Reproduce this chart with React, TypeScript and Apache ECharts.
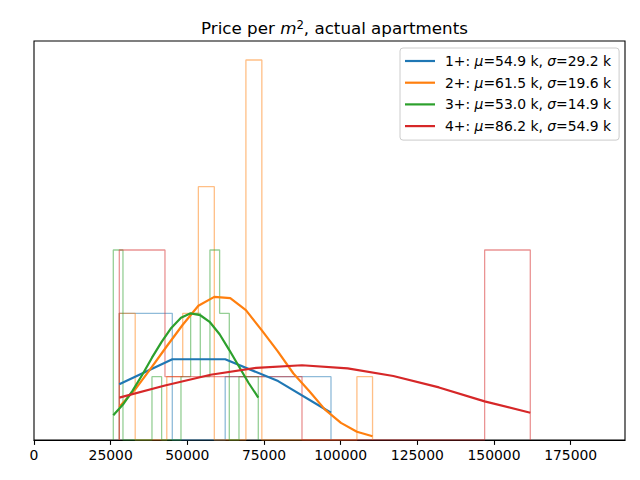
import React, { useEffect, useRef } from "react";
import * as echarts from "echarts";

// ---- data ----
const xTicks = [0, 25000, 50000, 75000, 100000, 125000, 150000, 175000];

const groupNames = ["1+", "2+", "3+", "4+"];
const groupMu = ["54.9", "61.5", "53.0", "86.2"];
const groupSigma = ["29.2", "19.6", "14.9", "54.9"];
const colors = ["#1f77b4", "#ff7f0e", "#2ca02c", "#d62728"];

// 1+
const edges1 = [27800, 45100, 62350, 79600, 96850];
const counts1 = [2, 0, 1, 1];
const pdf1 = [0.88, 1.275, 1.275, 0.93, 0.43];

// 2+
const edges2 = [27800, 33000, 38100, 43300, 48500, 53600, 58800, 64000, 69100, 74300, 79500, 84600, 89800, 94900, 100100, 105300, 110400];
const counts2 = [2, 0, 0, 1, 2, 4, 0, 0, 6, 0, 0, 0, 0, 0, 0, 1];
const pdf2 = [0.52, 0.8, 1.13, 1.48, 1.82, 2.12, 2.26, 2.24, 2.05, 1.73, 1.4, 1.05, 0.77, 0.48, 0.27, 0.13, 0.06];

// 3+
const edges3 = [25860, 29010, 32160, 35320, 38470, 41620, 44770, 47930, 51080, 54230, 57380, 60530, 63690, 66840, 69990, 73140];
const counts3 = [3, 0, 0, 0, 1, 0, 0, 1, 2, 1, 3, 2, 0, 1, 1];
const pdf3 = [0.39, 0.56, 0.78, 1.03, 1.3, 1.55, 1.77, 1.93, 2.0, 1.97, 1.86, 1.67, 1.42, 1.16, 0.9, 0.67];

// 4+
const edges4 = [27820, 42710, 57600, 72500, 87390, 102280, 117170, 132060, 146950, 161840];
const counts4 = [3, 1, 1, 1, 0, 0, 0, 0, 3];
const pdf4 = [0.67, 0.86, 1.03, 1.14, 1.18, 1.13, 1.01, 0.83, 0.61, 0.43];

const allEdges = [edges1, edges2, edges3, edges4];
const allCounts = [counts1, counts2, counts3, counts4];
const allPdf = [pdf1, pdf2, pdf3, pdf4];

function stepPoints(edges: number[], counts: number[]) {
  const pts: number[][] = [[edges[0], 0]];
  for (let i = 0; i < counts.length; i++) {
    pts.push([edges[i], counts[i]]);
    pts.push([edges[i + 1], counts[i]]);
  }
  pts.push([edges[edges.length - 1], 0]);
  return pts;
}

function legendName(i: number) {
  return groupNames[i] + ": mu=" + groupMu[i] + " k, sigma=" + groupSigma[i] + " k";
}

export default function App() {
  const ref = useRef<HTMLDivElement>(null);
  useEffect(() => {
    if (!ref.current) return;
    const chart = echarts.init(ref.current, undefined, { renderer: "svg" });
    const font = "DejaVu Sans";
    const series: any[] = [];
    for (let i = 0; i < 4; i++) {
      series.push({
        type: "line",
        name: "hist" + i,
        data: stepPoints(allEdges[i], allCounts[i]),
        symbol: "none",
        silent: true,
        z: 1,
        lineStyle: { color: colors[i], width: 1.3, opacity: 0.5 },
        itemStyle: { color: colors[i] },
      });
    }
    for (let i = 0; i < 4; i++) {
      series.push({
        type: "line",
        name: legendName(i),
        data: allEdges[i].map((x, k) => [x, allPdf[i][k]]),
        symbol: "none",
        z: 3,
        lineStyle: { color: colors[i], width: 2.2 },
        itemStyle: { color: colors[i] },
      });
    }
    const nameIndex: Record<string, number> = {};
    for (let i = 0; i < 4; i++) nameIndex[legendName(i)] = i;

    chart.setOption({
      animation: false,
      textStyle: { fontFamily: font },
      title: {
        text: "Price per {it|m}{sup|2}, actual apartments",
        left: 329.5,
        top: 14,
        textAlign: "center",
        textStyle: {
          fontFamily: font,
          fontSize: 16.7,
          fontWeight: "normal",
          color: "#000",
          rich: {
            it: { fontFamily: font, fontSize: 16.7, fontStyle: "italic", color: "#000" },
            sup: { fontFamily: font, fontSize: 11.7, color: "#000", verticalAlign: "top", padding: [0, 0, 6, 0] },
          },
        },
      },
      legend: {
        data: groupNames.map((_, i) => legendName(i)),
        orient: "vertical",
        left: 400,
        top: 48,
        padding: [6, 8, 7, 5],
        icon: "rect",
        itemWidth: 30,
        itemHeight: 2.2,
        itemGap: 7.7,
        backgroundColor: "rgba(255,255,255,0.8)",
        borderColor: "#cccccc",
        borderWidth: 1,
        borderRadius: 3,
        formatter: (name: string) => {
          const i = nameIndex[name];
          return (
            "{s| }{t|" + groupNames[i] + ": }{i|\u03bc}{t|=" + groupMu[i] + " k, }{i|\u03c3}{t|=" + groupSigma[i] + " k}"
          );
        },
        textStyle: {
          fontFamily: font,
          fontSize: 13.9,
          color: "#000",
          rich: {
            s: { width: 5, fontSize: 13.9, lineHeight: 17 },
            t: { fontFamily: font, fontSize: 13.9, color: "#000", lineHeight: 17 },
            i: { fontFamily: font, fontSize: 13.9, fontStyle: "italic", color: "#000", lineHeight: 17 },
          },
        },
      },
      grid: {
        left: 34,
        right: 15,
        top: 41,
        bottom: 40,
        show: true,
        borderColor: "#000",
        borderWidth: 1.1,
        backgroundColor: "transparent",
      },
      xAxis: {
        type: "value",
        min: 0,
        max: 192725,
        interval: 25000,
        splitLine: { show: false },
        axisLine: { show: true, lineStyle: { color: "#000", width: 1.1 } },
        axisTick: { show: true, inside: false, length: 4.9, lineStyle: { color: "#000", width: 1.1 }, customValues: xTicks },
        axisLabel: { color: "#000", fontSize: 13.9, fontFamily: font, margin: 8, customValues: xTicks, formatter: (v: number) => String(v) },
      },
      yAxis: {
        type: "value",
        min: 0,
        max: 6.3,
        show: false,
        splitLine: { show: false },
      },
      series,
    });
    return () => chart.dispose();
  }, []);
  return <div ref={ref} style={{ width: 640, height: 480, position: "absolute", left: 0, top: 0 }} />;
}
